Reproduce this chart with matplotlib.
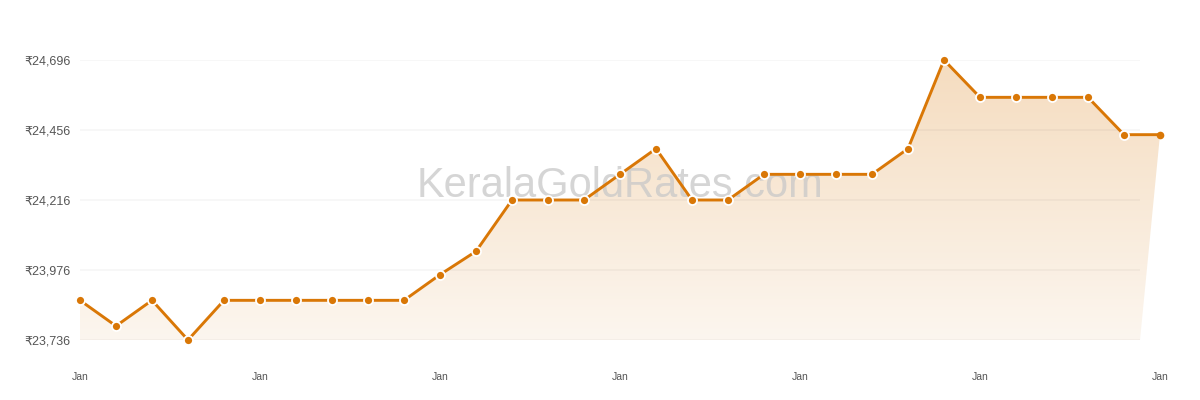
import numpy as np
import matplotlib
matplotlib.use("Agg")
import matplotlib.pyplot as plt
from matplotlib.patches import Polygon
from matplotlib.colors import LinearSegmentedColormap

# ---- data ----
prices = [23872, 23784, 23872, 23736, 23872, 23872, 23872, 23872, 23872, 23872,
          23960, 24040, 24216, 24216, 24216, 24304, 24392, 24216, 24216, 24304,
          24304, 24304, 24304, 24392, 24696, 24568, 24568, 24568, 24568, 24440,
          24440]
x_labels = ["Jan", "Jan", "Jan", "Jan", "Jan", "Jan", "Jan"]
label_every = 5
watermark = "KeralaGoldRates.com"

plt.rcParams['font.family'] = ['Liberation Sans', 'DejaVu Sans']

LINE = "#d97706"
W, H = 1200, 400
fig = plt.figure(figsize=(W / 100, H / 100), dpi=100)
ax = fig.add_axes([80 / W, 60 / H, (1140 - 80) / W, 280 / H])

x = np.arange(len(prices))
ymin, ymax = min(prices), max(prices)
step = (ymax - ymin) / 4
yticks = [ymin + k * step for k in range(5)]
px_per_idx = 36
xmax = (1140 - 80) / px_per_idx

# gradient fill clipped to area under the line
verts = list(zip(x, prices)) + [(xmax, ymin), (0, ymin)]
poly = Polygon(verts, closed=True, facecolor="none", edgecolor="none",
               transform=ax.transData)
cmap = LinearSegmentedColormap.from_list("g", ["#fcf6ef", "#f5dcbf"])
grad = np.linspace(0, 1, 256).reshape(-1, 1)
im = ax.imshow(grad, cmap=cmap, aspect="auto", origin="lower",
               extent=[0, x[-1], ymin, ymax], zorder=1)
ax.set_xlim(0, xmax)
ax.set_ylim(ymin, ymax)
im.set_clip_on(True)
im.set_clip_box(fig.bbox)
im.set_clip_path(poly)

# gridlines (faintly visible through the fill)
for yt in yticks:
    ax.axhline(yt, color="black", alpha=0.035, lw=1.2, zorder=1.5)

# watermark (behind the line)
ax.text((620 - 80) / 1060, 1 - (186 - 60) / 280, watermark,
        transform=ax.transAxes, ha="center", va="center",
        fontsize=30, color="#c8c8c8", alpha=0.75, zorder=2)

# line and markers
ax.plot(x, prices, color=LINE, lw=2.1, zorder=3, clip_on=False,
        solid_joinstyle="round")
ax.plot(x[:-1], prices[:-1], "o", ms=6.5, mfc=LINE, mec="white", mew=1.3,
        zorder=4, clip_on=False)
ax.plot(x[-1:], prices[-1:], "o", ms=5.5, mfc=LINE, mec=LINE, mew=0,
        zorder=4, clip_on=False)

# axes styling
for s in ax.spines.values():
    s.set_visible(False)
ax.set_xticks([])
ax.set_yticks(yticks)
ax.set_yticklabels([f"₹{int(round(v)):,}" for v in yticks],
                   fontsize=9, color="#555555")
ax.tick_params(axis="y", length=0, pad=7)

# x labels (last one lies beyond the axes area)
label_y = ymin - 37 * (ymax - ymin) / 280
for i, lab in enumerate(x_labels):
    ax.text(i * label_every, label_y, lab, ha="center", va="center",
            fontsize=7.5, color="#555555", clip_on=False)

fig.savefig("out.png", dpi=100, facecolor="white")
